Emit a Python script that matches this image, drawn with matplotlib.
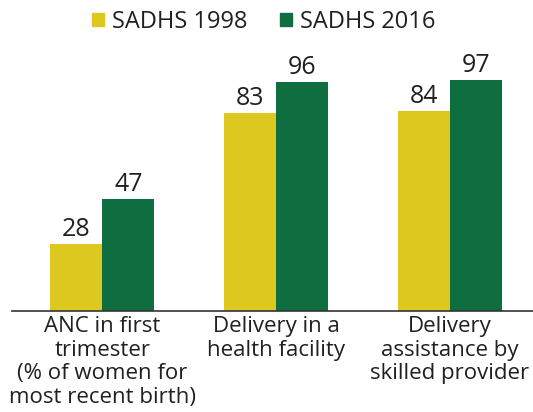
import numpy as np
import matplotlib.pyplot as plt
from matplotlib.patches import Patch

categories = ["ANC in first\ntrimester\n(% of women for\nmost recent birth)",
              "Delivery in a\nhealth facility",
              "Delivery\nassistance by\nskilled provider"]
series_names = ["SADHS 1998", "SADHS 2016"]
vals_1998 = [28, 83, 84]
vals_2016 = [47, 96, 97]

yellow = "#dcc81f"
green = "#0f6e40"
txt = "#231f20"

plt.rcParams['font.family'] = ['Open Sans', 'DejaVu Sans']

fig = plt.figure(figsize=(5.33, 4.12), dpi=100)
ax = fig.add_axes([0.0225, 0.245, 0.9775, 0.578])

x = np.arange(len(categories))
w = 0.3
b1 = ax.bar(x - w/2, vals_1998, w, color=yellow)
b2 = ax.bar(x + w/2, vals_2016, w, color=green)
for bars in (b1, b2):
    for b in bars:
        ax.text(b.get_x() + b.get_width()/2, b.get_height() + 3.4,
                str(int(b.get_height())), ha='center', va='baseline',
                fontsize=18, color=txt)

ax.set_xlim(-0.52, 2.48)
ax.set_ylim(0, 100)
ax.set_yticks([])
ax.set_xticks([])
for s in ['top', 'right', 'left']:
    ax.spines[s].set_visible(False)
ax.spines['bottom'].set_color('#333333')
ax.spines['bottom'].set_linewidth(1.2)

for xi, lab in zip(x, categories):
    ax.text(xi, -2, lab, ha='center', va='top', fontsize=16, color=txt,
            linespacing=1.17)

handles = [Patch(color=yellow), Patch(color=green)]
fig.legend(handles, series_names, loc='upper center', bbox_to_anchor=(0.495, 1.028),
           ncol=2, frameon=False, fontsize=17, handlelength=0.5, handleheight=0.5,
           handletextpad=0.35, columnspacing=1.4, labelcolor=txt)

fig.savefig("out.png", dpi=100)
